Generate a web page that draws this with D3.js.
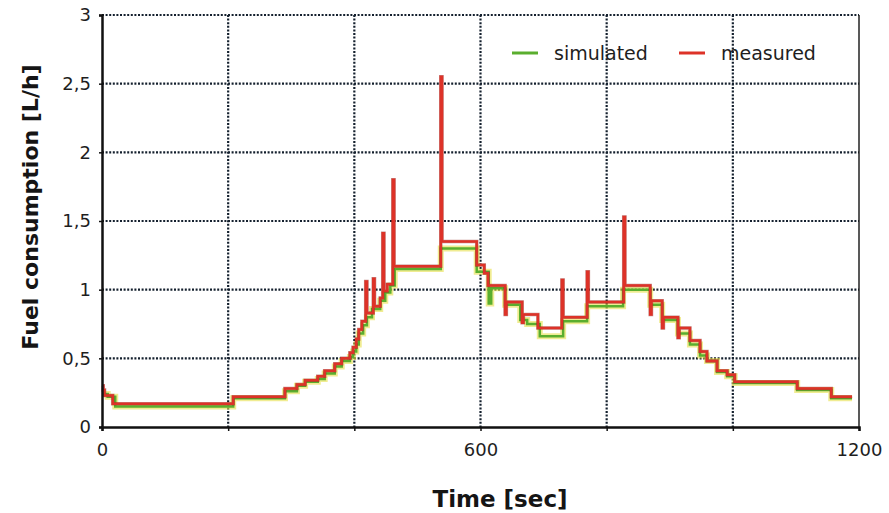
<!DOCTYPE html>
<html>
<head>
<meta charset="utf-8">
<script src="https://cdn.jsdelivr.net/npm/d3@7"></script>
<style>
body { margin: 0; background: #fff; }
svg { font-family: "DejaVu Sans", sans-serif; }
</style>
</head>
<body>
<div class="wrap"></div>
<script>
var width = 889, height = 513
var margin = {left: 102, top: 15, right: 30, bottom: 86}

// step points, time in sec
var simTime  = [0, 9, 21, 208, 290, 309, 322, 342, 353, 369, 380, 393, 398, 403, 407, 414, 420, 428, 441, 449, 457, 464, 537, 594, 613, 617, 639, 663, 674, 694, 731, 769, 826, 869, 888, 913, 932, 948, 959, 975, 991, 1003, 1102, 1156, 1189]
var simValue = [0.24, 0.22, 0.15, 0.21, 0.26, 0.30, 0.33, 0.35, 0.39, 0.44, 0.48, 0.51, 0.55, 0.60, 0.68, 0.74, 0.80, 0.86, 0.92, 0.98, 1.03, 1.15, 1.30, 1.13, 0.90, 1.01, 0.89, 0.78, 0.75, 0.66, 0.77, 0.88, 1.00, 0.89, 0.78, 0.68, 0.60, 0.52, 0.48, 0.40, 0.37, 0.32, 0.27, 0.21, 0.21]

var measTime  = [0, 2, 4, 17, 208, 290, 309, 322, 342, 353, 369, 380, 393, 398, 403, 407, 412, 418, 420, 430, 432, 441, 445, 447, 452, 461, 463, 537, 539, 594, 606, 612, 639, 641, 666, 668, 691, 729, 731, 769, 771, 827, 829, 869, 871, 888, 890, 913, 915, 932, 948, 959, 975, 991, 1003, 1102, 1156, 1189]
var measValue = [0.30, 0.27, 0.23, 0.17, 0.22, 0.28, 0.31, 0.34, 0.37, 0.41, 0.46, 0.50, 0.54, 0.58, 0.64, 0.71, 0.77, 1.06, 0.83, 1.08, 0.88, 0.94, 1.41, 0.99, 1.04, 1.80, 1.17, 2.55, 1.35, 1.18, 1.12, 1.03, 0.82, 0.91, 0.76, 0.82, 0.72, 1.07, 0.80, 1.13, 0.91, 1.53, 1.03, 0.82, 0.92, 0.72, 0.80, 0.65, 0.72, 0.63, 0.55, 0.48, 0.41, 0.38, 0.33, 0.28, 0.22, 0.22]

var xTicks = [0, 200, 400, 600, 800, 1000, 1200]
var xLabels = [0, 600, 1200]
var yTicks = [0, 0.5, 1, 1.5, 2, 2.5, 3]

var w = width - margin.left - margin.right
var h = height - margin.top - margin.bottom

var svg = d3.select('.wrap').append('svg')
    .attr("width", width)
    .attr("height", height)

var g = svg.append('g').attr("transform", `translate(${margin.left},${margin.top})`)

var x = d3.scaleLinear().domain([0, 1200]).range([0, w])
var y = d3.scaleLinear().domain([0, 3]).range([h, 0])

// grid
var grid = g.append('g').attr("class", "grid")
grid.selectAll('.hg')
    .data(yTicks.slice(1))
    .enter().append('line')
    .attr("x1", 0).attr("x2", w)
    .attr("y1", d => y(d)).attr("y2", d => y(d))
grid.selectAll('.vg')
    .data(xTicks.slice(1, -1))
    .enter().append('line')
    .attr("x1", d => x(d)).attr("x2", d => x(d))
    .attr("y1", 0).attr("y2", h)
grid.selectAll('line')
    .attr("stroke", "#14202e")
    .attr("stroke-width", 2.2)
    .attr("stroke-dasharray", "2,1.6")

// right border
g.append('line')
    .attr("x1", w).attr("x2", w).attr("y1", 0).attr("y2", h)
    .attr("stroke", "#222").attr("stroke-width", 1.5)

// series
var line = d3.line()
    .x(d => x(d[0]))
    .y(d => y(d[1]))
    .curve(d3.curveStepAfter)

var sim = simTime.map((t, i) => [t, simValue[i]])
var meas = measTime.map((t, i) => [t, measValue[i]])

g.append('path').datum(sim)
    .attr("d", line).attr("fill", "none")
    .attr("stroke", "#e6e04a").attr("stroke-width", 6).attr("stroke-opacity", 0.6)
g.append('path').datum(sim)
    .attr("d", line).attr("fill", "none")
    .attr("stroke", "#5aae2e").attr("stroke-width", 2.5)
g.append('path').datum(meas)
    .attr("d", line).attr("fill", "none")
    .attr("stroke", "#8a1f1a").attr("stroke-width", 3.5).attr("stroke-opacity", 0.5)
g.append('path').datum(meas)
    .attr("d", line).attr("fill", "none")
    .attr("stroke", "#dd3228").attr("stroke-width", 2.5)

// axes
var xAxis = d3.axisBottom(x)
    .tickValues(xTicks)
    .tickSize(4)
    .tickPadding(12)
    .tickFormat(d => xLabels.includes(d) ? d : "")
var yAxis = d3.axisLeft(y)
    .tickValues(yTicks)
    .tickSize(3)
    .tickPadding(8)
    .tickFormat(d => String(d).replace(".", ","))

var xg = g.append('g').attr("transform", `translate(0,${h})`).call(xAxis)
var yg = g.append('g').call(yAxis)

svg.selectAll('.domain').attr("stroke", "#111").attr("stroke-width", 2.5)
svg.selectAll('.tick line').attr("stroke", "#111").attr("stroke-width", 1.5)
svg.selectAll('.tick text')
    .attr("fill", "#1e1e1e")
    .style("font-size", "18px")
    .style("font-family", "DejaVu Sans, sans-serif")

// legend
var legend = g.append('g').attr("transform", "translate(410,38)")
var legItems = [{label: "simulated", color: "#5aae2e"}, {label: "measured", color: "#dd3228"}]
legItems.forEach((l, i) => {
    var lg = legend.append('g').attr("transform", `translate(${i * 167},0)`)
    lg.append('line').attr("x1", 0).attr("x2", 26).attr("y1", 0).attr("y2", 0)
        .attr("stroke", l.color).attr("stroke-width", 3)
    lg.append('text').attr("x", 42).attr("y", 7)
        .text(l.label)
        .attr("fill", "#1e1e1e")
        .style("font-size", "19px")
})

// titles
svg.append('text')
    .attr("x", 500).attr("y", 507)
    .attr("text-anchor", "middle")
    .style("font-size", "23px").style("font-weight", "bold")
    .attr("fill", "#151515")
    .text("Time [sec]")

svg.append('text')
    .attr("transform", "translate(38,207) rotate(-90)")
    .attr("text-anchor", "middle")
    .style("font-size", "22px").style("font-weight", "bold")
    .attr("fill", "#151515")
    .text("Fuel consumption [L/h]")
</script>
</body>
</html>
